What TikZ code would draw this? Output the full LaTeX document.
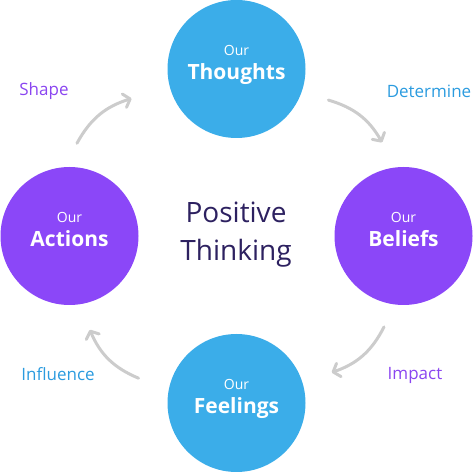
\documentclass[tikz,border=0pt]{standalone}
\usepackage{fontspec}
\setmainfont{Open Sans}
\usetikzlibrary{arrows.meta}
\definecolor{thinkblue}{HTML}{3BADE9}
\definecolor{thinkpurple}{HTML}{8B47F8}
\definecolor{verbblue}{HTML}{2B9BDF}
\definecolor{verbpurple}{HTML}{8A45F0}
\definecolor{titleink}{HTML}{2D2160}
\definecolor{cyclegray}{HTML}{CCCCCC}
\tikzset{ring/.style={circle, minimum size=138pt, inner sep=0pt}}
\tikzset{our/.style={anchor=base, text=white, font=\fontsize{14}{14}\selectfont}}
\tikzset{word/.style={anchor=base, text=white, font=\fontsize{21}{21}\selectfont\bfseries}}
\tikzset{verb/.style={font=\fontsize{17}{17}\selectfont}}
\tikzset{
cyc/.style={draw=cyclegray, line width=3pt, line cap=round, -{Straight Barb[length=6pt, width=14pt, round]}}
}

\begin{document}
\begin{tikzpicture}[x=1pt, y=1pt]
    \useasboundingbox (0,0) rectangle (473,473);
    \node[ring, fill=thinkblue] (thoughts) at (236.5,404) {};
    \node[ring, fill=thinkpurple] (beliefs) at (403.5,237) {};
    \node[ring, fill=thinkblue] (feelings) at (236.5,70) {};
    \node[ring, fill=thinkpurple] (actions) at (69.5,237) {};
    \foreach \r/\w in {thoughts/Thoughts, beliefs/Beliefs, feelings/Feelings, actions/Actions} {
        \node[our] (\r-our) at ([yshift=13pt]\r.center) {Our};
        \node[word] (\r-word) at ([yshift=-11pt]\r.center) {\w};
    }
    \node[text=titleink, align=center, font=\fontsize{28}{38}\selectfont] (title) at (236,238) {Positive\\Thinking};
    \node[verb, text=verbpurple] (shape) at (44,382) {Shape};
    \node[verb, text=verbblue] (determine) at (429,382) {Determine};
    \node[verb, text=verbpurple] (impact) at (415,98) {Impact};
    \node[verb, text=verbblue] (influence) at (58,99) {Influence};
    \draw[cyc] ([shift={(-18.7:97)}]thoughts.center) to[bend left=22] ([shift={(102.9:96)}]beliefs.center);
    \draw[cyc] ([shift={(257.9:93)}]beliefs.center) to[bend left=22] ([shift={(17.8:100)}]feelings.center);
    \draw[cyc] ([shift={(165.8:101)}]feelings.center) to[bend left=22] ([shift={(-77.8:96)}]actions.center);
    \draw[cyc] ([shift={(85.4:93)}]actions.center) to[bend left=22] ([shift={(195.7:109)}]thoughts.center);
\end{tikzpicture}
\end{document}
